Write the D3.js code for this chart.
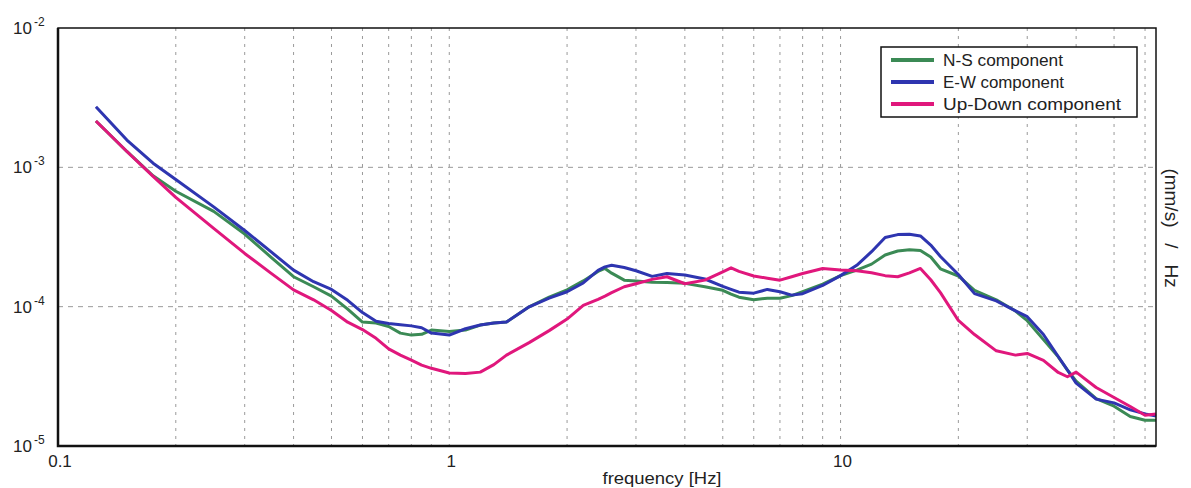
<!DOCTYPE html>
<html>
  <head>
    <title>Noise spectra</title>
    <script src="https://d3js.org/d3.v7.min.js"></script>
    <style>
      body { margin: 0; background: #fff; }
      text { font-family: "Liberation Sans", Arial, sans-serif; fill: #222; }
    </style>
  </head>
  <body>
    <div id="main"></div>
    <script>
      var WIDTH = 1191, HEIGHT = 488;
      var LEFT = 58, RIGHT = 1156, TOP = 28, BOTTOM = 446;

      // frequencies [Hz] shared by the three components
      var freq = [0.125, 0.15, 0.175, 0.2, 0.25, 0.3, 0.35, 0.4, 0.45, 0.5,
                  0.55, 0.6, 0.65, 0.7, 0.75, 0.8, 0.85, 0.9, 1, 1.1,
                  1.2, 1.3, 1.4, 1.6, 1.8, 2, 2.2, 2.4, 2.5, 2.6, 2.8,
                  3, 3.3, 3.6, 4, 4.5, 5, 5.25, 5.5, 6, 6.5, 7,
                  7.5, 8, 9, 10, 11, 12, 13, 14, 15, 16,
                  17, 18, 20, 22, 25, 28, 30, 33, 36, 38, 40,
                  45, 50, 55, 60, 64];

      var nsValues = [2.15e-3, 1.30e-3, 8.69e-4, 6.74e-4, 4.83e-4, 3.32e-4, 2.27e-4, 1.64e-4, 1.39e-4, 1.19e-4,
                      9.61e-5, 7.75e-5, 7.63e-5, 7.20e-5, 6.46e-5, 6.25e-5, 6.33e-5, 6.79e-5, 6.63e-5, 6.79e-5,
                      7.38e-5, 7.63e-5, 7.75e-5, 9.97e-5, 1.17e-4, 1.32e-4, 1.53e-4, 1.79e-4, 1.88e-4, 1.74e-4, 1.55e-4,
                      1.53e-4, 1.50e-4, 1.49e-4, 1.47e-4, 1.39e-4, 1.31e-4, 1.23e-4, 1.17e-4, 1.12e-4, 1.15e-4, 1.15e-4,
                      1.20e-4, 1.28e-4, 1.45e-4, 1.67e-4, 1.83e-4, 2.02e-4, 2.35e-4, 2.51e-4, 2.56e-4, 2.53e-4,
                      2.27e-4, 1.87e-4, 1.66e-4, 1.31e-4, 1.12e-4, 9.30e-5, 7.93e-5, 5.80e-5, 4.36e-5, 3.51e-5, 2.92e-5,
                      2.19e-5, 1.93e-5, 1.63e-5, 1.53e-5, 1.53e-5];

      var ewValues = [2.72e-3, 1.57e-3, 1.07e-3, 8.17e-4, 5.20e-4, 3.52e-4, 2.48e-4, 1.83e-4, 1.51e-4, 1.33e-4,
                      1.11e-4, 9.07e-5, 7.85e-5, 7.58e-5, 7.41e-5, 7.28e-5, 7.06e-5, 6.46e-5, 6.25e-5, 6.94e-5,
                      7.38e-5, 7.63e-5, 7.75e-5, 9.97e-5, 1.15e-4, 1.28e-4, 1.48e-4, 1.82e-4, 1.93e-4, 1.98e-4, 1.91e-4,
                      1.81e-4, 1.65e-4, 1.73e-4, 1.69e-4, 1.58e-4, 1.40e-4, 1.33e-4, 1.27e-4, 1.25e-4, 1.33e-4, 1.28e-4,
                      1.21e-4, 1.24e-4, 1.42e-4, 1.67e-4, 1.98e-4, 2.48e-4, 3.14e-4, 3.29e-4, 3.31e-4, 3.22e-4,
                      2.77e-4, 2.29e-4, 1.70e-4, 1.24e-4, 1.10e-4, 9.33e-5, 8.48e-5, 6.31e-5, 4.39e-5, 3.51e-5, 2.83e-5,
                      2.17e-5, 2.04e-5, 1.82e-5, 1.70e-5, 1.64e-5];

      var udValues = [2.15e-3, 1.30e-3, 8.62e-4, 6.08e-4, 3.65e-4, 2.41e-4, 1.74e-4, 1.32e-4, 1.12e-4, 9.39e-5,
                      7.74e-5, 6.85e-5, 5.93e-5, 4.98e-5, 4.49e-5, 4.14e-5, 3.81e-5, 3.61e-5, 3.34e-5, 3.32e-5,
                      3.39e-5, 3.84e-5, 4.49e-5, 5.52e-5, 6.73e-5, 8.15e-5, 1.02e-4, 1.13e-4, 1.19e-4, 1.26e-4, 1.39e-4,
                      1.46e-4, 1.57e-4, 1.64e-4, 1.46e-4, 1.55e-4, 1.78e-4, 1.90e-4, 1.79e-4, 1.66e-4, 1.60e-4, 1.55e-4,
                      1.64e-4, 1.73e-4, 1.88e-4, 1.83e-4, 1.81e-4, 1.75e-4, 1.67e-4, 1.64e-4, 1.75e-4, 1.88e-4,
                      1.56e-4, 1.26e-4, 7.96e-5, 6.31e-5, 4.82e-5, 4.49e-5, 4.62e-5, 4.12e-5, 3.37e-5, 3.14e-5, 3.39e-5,
                      2.63e-5, 2.23e-5, 1.92e-5, 1.66e-5, 1.70e-5];

      var seriesNames = ["N-S component", "E-W component", "Up-Down component"];
      var seriesColors = ["#3b8a55", "#2e35b0", "#e0177c"];
      var seriesValues = [nsValues, ewValues, udValues];

      var xTickLabels = ["0.1", "1", "10"];
      var xTickValues = [0.1, 1, 10];
      var yTickExps = ["-2", "-3", "-4", "-5"];
      var yTickValues = [1e-2, 1e-3, 1e-4, 1e-5];

      var svg = d3.select('#main').append('svg')
                  .attr('width', WIDTH).attr('height', HEIGHT);

      var x = d3.scaleLog().domain([0.1, 64]).range([LEFT, RIGHT]);
      var y = d3.scaleLog().domain([1e-5, 1e-2]).range([BOTTOM, TOP]);

      // vertical grid at every 1..9 step of each decade
      var minor = x.ticks().filter(function(f) { return f > 0.1 && f < 64; });
      svg.append('g').selectAll('line').data(minor).enter()
        .append('line')
          .attr('x1', function(f) { return x(f); })
          .attr('x2', function(f) { return x(f); })
          .attr('y1', TOP).attr('y2', BOTTOM)
          .attr('stroke', '#9a9a9a').attr('stroke-width', 1)
          .attr('stroke-dasharray', '3,5');

      // horizontal grid only at decades
      svg.append('g').selectAll('line').data([1e-3, 1e-4]).enter()
        .append('line')
          .attr('x1', LEFT).attr('x2', RIGHT)
          .attr('y1', function(v) { return y(v); })
          .attr('y2', function(v) { return y(v); })
          .attr('stroke', '#9a9a9a').attr('stroke-width', 1)
          .attr('stroke-dasharray', '5,5');

      // curves
      var line = d3.line()
        .x(function(d) { return x(d[0]); })
        .y(function(d) { return y(d[1]); });

      [0, 1, 2].forEach(function(s) {
        var pts = freq.map(function(f, i) { return [f, seriesValues[s][i]]; });
        svg.append('path')
          .datum(pts)
          .attr('d', line)
          .attr('fill', 'none')
          .attr('stroke', seriesColors[s])
          .attr('stroke-width', 3)
          .attr('stroke-linejoin', 'round');
      });

      // frame
      svg.append('rect')
        .attr('x', LEFT).attr('y', TOP)
        .attr('width', RIGHT - LEFT).attr('height', BOTTOM - TOP)
        .attr('fill', 'none').attr('stroke', '#111').attr('stroke-width', 1.5);
      svg.append('path')
        .attr('d', 'M' + LEFT + ',' + TOP + 'V' + BOTTOM + 'H' + RIGHT)
        .attr('fill', 'none').attr('stroke', '#111').attr('stroke-width', 2.5);

      // x tick labels
      svg.append('g').selectAll('text').data(xTickValues).enter()
        .append('text')
          .attr('x', function(f) { return x(f) + 2; })
          .attr('y', 467)
          .attr('text-anchor', 'middle')
          .style('font-size', '17px')
          .text(function(f, i) { return xTickLabels[i]; });

      // y tick labels: 10 with superscript exponent
      var yt = svg.append('g').selectAll('text').data(yTickValues).enter()
        .append('text')
          .attr('x', 13)
          .attr('y', function(v) { return y(v) + 6; })
          .style('font-size', '17px');
      yt.append('tspan').text('10');
      yt.append('tspan')
        .attr('dx', 2).attr('dy', -8)
        .style('font-size', '12px')
        .text(function(v, i) { return yTickExps[i]; });

      svg.append('text')
        .attr('x', 662).attr('y', 484)
        .attr('text-anchor', 'middle')
        .style('font-size', '16px')
        .attr('textLength', 119).attr('lengthAdjust', 'spacingAndGlyphs')
        .text('frequency [Hz]');

      svg.append('text')
        .attr('transform', 'translate(1165,228) rotate(90)')
        .attr('text-anchor', 'middle')
        .style('font-size', '19px')
        .style('white-space', 'pre')
        .text('(mm/s)   /   Hz');

      // legend
      var lg = svg.append('g');
      lg.append('rect')
        .attr('x', 881).attr('y', 47).attr('width', 256).attr('height', 70)
        .attr('fill', '#fff').attr('stroke', '#111').attr('stroke-width', 1.5);
      seriesNames.forEach(function(name, i) {
        var cy = 60 + i * 22;
        lg.append('line')
          .attr('x1', 891).attr('x2', 934)
          .attr('y1', cy).attr('y2', cy)
          .attr('stroke', seriesColors[i]).attr('stroke-width', 4);
        lg.append('text')
          .attr('x', 943).attr('y', cy + 6)
          .style('font-size', '16px')
          .attr('textLength', [120, 121, 178][i]).attr('lengthAdjust', 'spacingAndGlyphs')
          .text(name);
      });
    </script>
  </body>
</html>
